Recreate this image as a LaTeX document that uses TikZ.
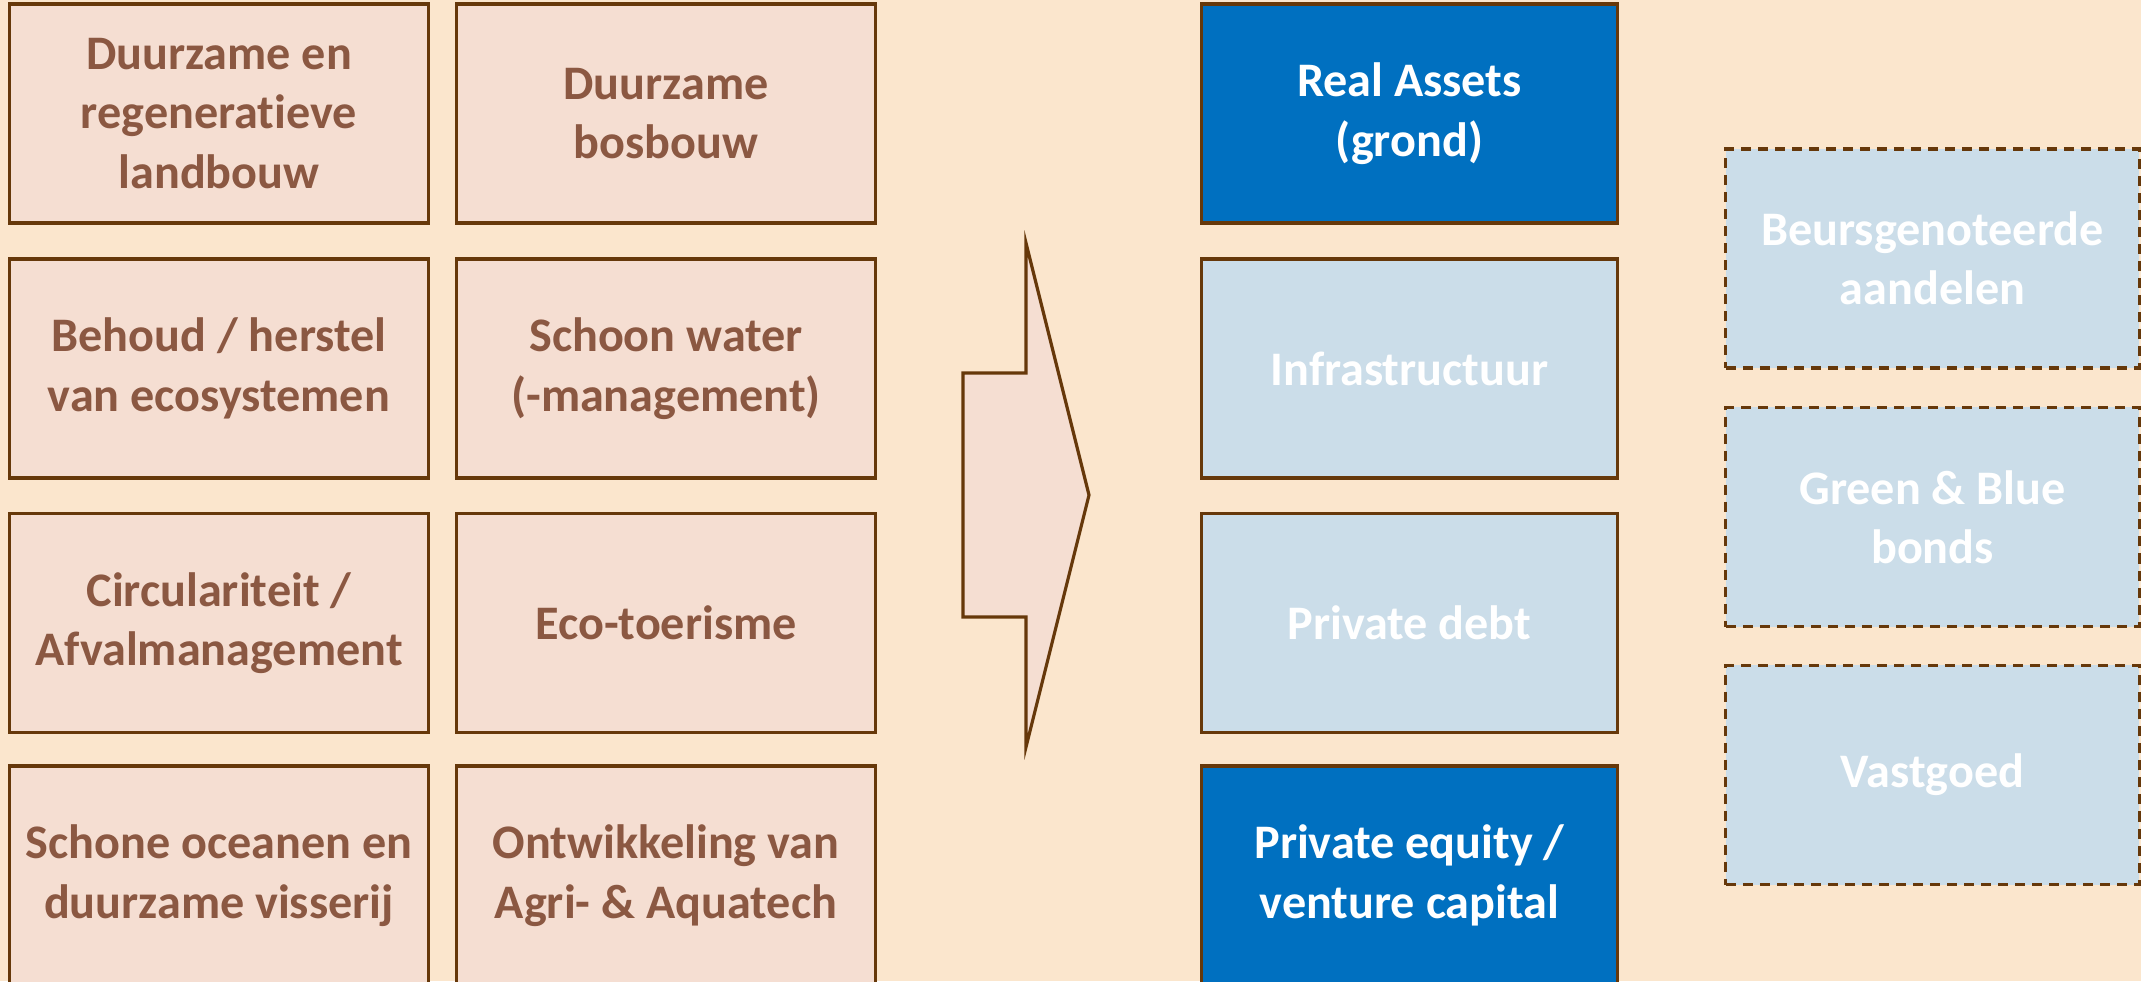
\documentclass[tikz,border=0pt]{standalone}
\usepackage{fontspec}
\setmainfont{Carlito}[Ligatures=NoCommon]
\usepackage{xcolor}
\definecolor{bg}{RGB}{251,230,205}
\definecolor{rim}{RGB}{102,56,10}
\definecolor{roze}{RGB}{245,222,210}
\definecolor{bruin}{RGB}{139,88,66}
\definecolor{donkerblauw}{RGB}{0,112,192}
\definecolor{lichtblauw}{RGB}{203,221,233}

\begin{document}
\begin{tikzpicture}[x=0.01cm,y=-0.01cm,
   every node/.style={font=\fontsize{13.7}{16.9}\selectfont\bfseries,align=center,inner sep=0pt},
   sector/.style={draw=rim,fill=roze,text=bruin,line width=0.9pt,
      minimum width=4.18cm,minimum height=2.19cm},
   vorm/.style={draw=rim,line width=0.9pt,text=white,
      minimum width=4.15cm,minimum height=2.19cm},
   donker/.style={vorm,fill=donkerblauw},
   licht/.style={vorm,fill=lichtblauw},
   optie/.style={licht,dashed,dash pattern=on 0.1cm off 0.07cm,minimum width=4.13cm}]
\fill[bg] (0,0) rectangle (2141,981);
\useasboundingbox (0,0) rectangle (2141,981);
\clip (0,0) rectangle (2141,981);

% sectoren
\node[sector] (landbouw) at (219,113.5) {Duurzame en\\regeneratieve\\landbouw};
\node[sector] (bosbouw)  at (666,113.5) {Duurzame\\bosbouw};
\node[sector] (herstel)  at (219,368.5) {Behoud / herstel\\van ecosystemen};
\node[sector] (water)    at (666,368.5) {Schoon water\\(-management)};
\node[sector] (circulair) at (219,623) {Circulariteit /\\Afvalmanagement};
\node[sector] (toerisme) at (666,623) {Eco-toerisme};
\node[sector] (oceanen)  at (219,875.5) {Schone oceanen en\\duurzame visserij};
\node[sector] (aquatech) at (666,875.5) {Ontwikkeling van\\Agri- \& Aquatech};

% pijl
\filldraw[draw=rim,fill=roze,line width=0.9pt]
   (963,373) -- (1026,373) -- (1026,243) -- (1089,495)
   -- (1026,747) -- (1026,617) -- (963,617) -- cycle;

% beleggingsvormen
\node[donker] (grond)  at (1409.5,113.5) {Real Assets\\(grond)};
\node[licht]  (infra)  at (1409.5,368.5) {Infrastructuur};
\node[licht]  (debt)   at (1409.5,623) {Private debt};
\node[donker] (equity) at (1409.5,875.5) {Private equity /\\venture capital};

\node[optie] (aandelen) at (1932.5,258.5) {Beursgenoteerde\\aandelen};
\node[optie] (bonds)    at (1932.5,517) {Green \& Blue\\bonds};
\node[optie] (vastgoed) at (1932.5,775) {Vastgoed};
\end{tikzpicture}
\end{document}
